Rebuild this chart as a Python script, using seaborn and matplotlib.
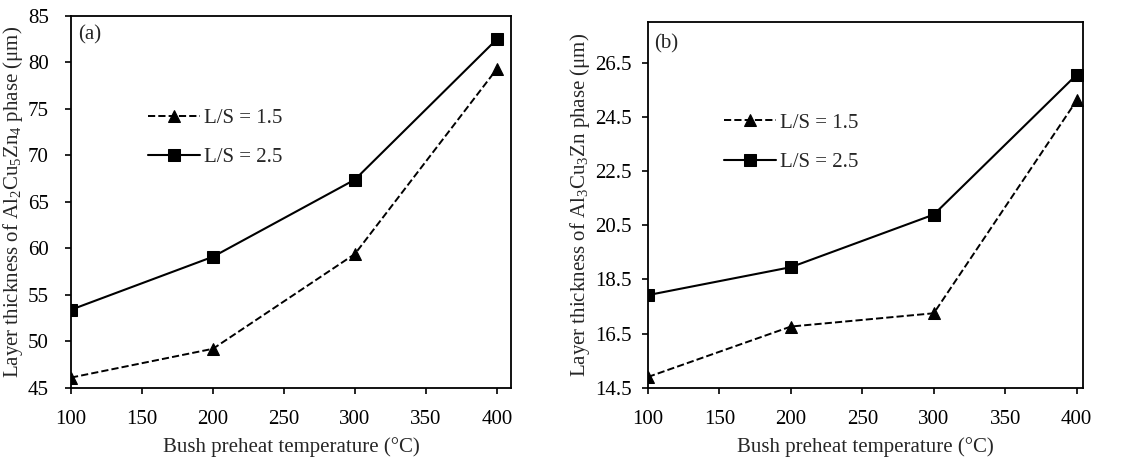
import numpy as np
import pandas as pd
import matplotlib
matplotlib.use("Agg")
import matplotlib.pyplot as plt
import seaborn as sns
from matplotlib.ticker import MultipleLocator

temps = [100, 200, 300, 400]

# panel (a): Al2Cu5Zn4 layer thickness (um)
a_ls15 = [46.1, 49.2, 59.4, 79.3]
a_ls25 = [53.4, 59.1, 67.4, 82.5]

# panel (b): Al3Cu3Zn layer thickness (um)
b_ls15 = [14.9, 16.76, 17.25, 25.1]
b_ls25 = [17.92, 18.95, 20.89, 26.05]

series_labels = ["L/S = 1.5", "L/S = 2.5"]
a_ylabel = "Layer thickness of Al$_2$Cu$_5$Zn$_4$ phase (μm)"
b_ylabel = "Layer thickness of Al$_3$Cu$_3$Zn phase (μm)"
xlabel = "Bush preheat temperature (°C)"

sns.set_theme(style="ticks")
plt.rcParams["font.family"] = ["Liberation Serif", "DejaVu Serif"]
plt.rcParams["mathtext.default"] = "regular"
plt.rcParams["axes.edgecolor"] = "black"
plt.rcParams["axes.linewidth"] = 1.3

fig = plt.figure(figsize=(11.42, 4.65), dpi=100)
ax_a = fig.add_axes([0.0622, 0.166, 0.3853, 0.7996])
ax_b = fig.add_axes([0.5674, 0.166, 0.3809, 0.7870])

FS = 15


def draw(ax, ls15, ls25, ylim, yticks, xlim, ylabel, tag, leg_y, ypad):
    sns.lineplot(x=temps, y=ls15, ax=ax, color="black", linestyle="--", lw=1.4,
                 marker="^", markersize=8, markeredgecolor="black", label=series_labels[0])
    sns.lineplot(x=temps, y=ls25, ax=ax, color="black", linestyle="-", lw=1.5,
                 marker="s", markersize=9, markeredgecolor="black", label=series_labels[1])
    ax.set_xlim(*xlim)
    ax.set_ylim(*ylim)
    ax.set_yticks(yticks)
    ax.xaxis.set_major_locator(MultipleLocator(50))
    ax.tick_params(axis="both", labelsize=FS, direction="out", length=4, width=1.2,
                   colors="black")
    ax.tick_params(axis="x", pad=12)
    ax.tick_params(axis="y", pad=ypad)
    ax.set_xlabel(xlabel, fontsize=FS, labelpad=6)
    ax.set_ylabel(ylabel, fontsize=FS, labelpad=2)
    for s in ax.spines.values():
        s.set_visible(True)
        s.set_color("black")
    ax.text(0.015, tag[1], tag[0], transform=ax.transAxes, fontsize=FS, va="center")
    ax.legend(loc="center left", bbox_to_anchor=(0.155, leg_y), frameon=False,
              fontsize=FS, handlelength=2.5, labelspacing=0.95, handletextpad=0.2,
              borderaxespad=0)


draw(ax_a, a_ls15, a_ls25, (45, 85), np.arange(45, 86, 5), (100, 410),
     a_ylabel, ("(a)", 0.95), 0.672, 12)
draw(ax_b, b_ls15, b_ls25, (14.5, 28.0), np.arange(14.5, 26.6, 2.0), (100, 404.4),
     b_ylabel, ("(b)", 0.94), 0.67, 8)
ax_b.set_yticklabels([f"{v:.1f}" for v in np.arange(14.5, 26.6, 2.0)])

fig.savefig("out.png", dpi=100)
